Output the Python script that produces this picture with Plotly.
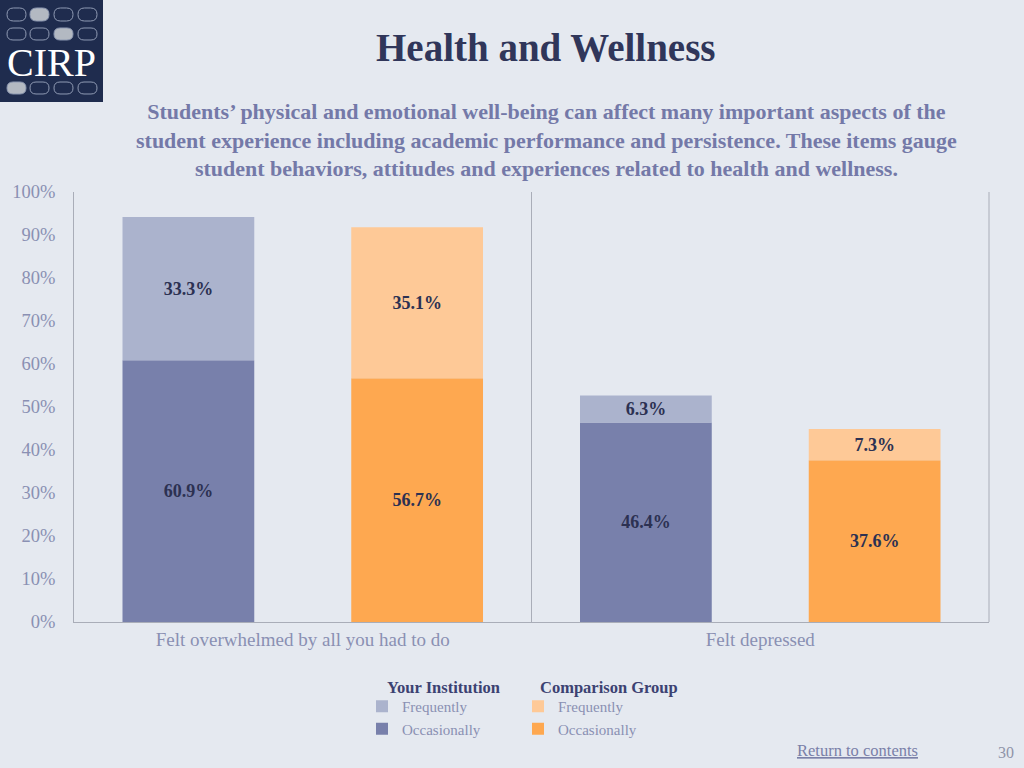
import plotly.graph_objects as go

# ---- data ----
categories = ["Felt overwhelmed by all you had to do", "Felt depressed"]
inst_occasionally = [60.9, 46.4]
inst_frequently = [33.3, 6.3]
comp_occasionally = [56.7, 37.6]
comp_frequently = [35.1, 7.3]
y_ticks = [0, 10, 20, 30, 40, 50, 60, 70, 80, 90, 100]

# ---- style ----
BG = "#e5e9f0"
SERIF = "Liberation Serif"
C_INST_OCC = "#7880ab"
C_INST_FRQ = "#abb3cd"
C_COMP_OCC = "#fea850"
C_COMP_FRQ = "#fec997"
LABEL_COLOR = "#2c3152"
AXIS_TEXT = "#8a90b3"
LINE = "#a9adb8"

W, H = 1024, 768
L, R, T, B = 74, 35, 192, 146
PW, PH = W - L - R, H - T - B


def px(x):
    return (x - L) / PW


def py(y):
    return (H - B - y) / PH


def fmt(v):
    return [f"{x:.1f}%" for x in v]


fig = go.Figure()

def add_bar(vals, base, color, name, group, legend):
    fig.add_trace(go.Bar(
        x=categories, y=vals, base=base, offsetgroup=group,
        marker=dict(color=color, line=dict(width=0)),
        text=fmt(vals), textposition="inside", insidetextanchor="middle",
        textangle=0,
        textfont=dict(family=SERIF, size=18, color=LABEL_COLOR, weight="bold"),
        name=name, legend=legend, showlegend=True,
    ))

add_bar(inst_occasionally, None, C_INST_OCC, "Occasionally", "inst", "legend")
add_bar(inst_frequently, inst_occasionally, C_INST_FRQ, "Frequently", "inst", "legend")
add_bar(comp_occasionally, None, C_COMP_OCC, "Occasionally", "comp", "legend2")
add_bar(comp_frequently, comp_occasionally, C_COMP_FRQ, "Frequently", "comp", "legend2")

shapes = []
# divider between categories and right border
shapes.append(dict(type="line", xref="x", yref="paper", x0=0.5, x1=0.5, y0=0, y1=1,
                   line=dict(color=LINE, width=1)))
shapes.append(dict(type="line", xref="paper", yref="paper", x0=1, x1=1, y0=0, y1=1,
                   line=dict(color=LINE, width=1)))

# logo background
shapes.append(dict(type="rect", xref="paper", yref="paper", x0=px(0), x1=px(103),
                   y0=py(102), y1=py(0), line=dict(width=0), fillcolor="#1f2c4e", layer="above"))


def stadium(x0, y0, x1, y1):
    r = (y1 - y0) / 2
    X = lambda v: f"{px(v):.5f}"
    Y = lambda v: f"{py(v):.5f}"
    return (f"M {X(x0 + r)},{Y(y0)} L {X(x1 - r)},{Y(y0)} "
            f"Q {X(x1)},{Y(y0)} {X(x1)},{Y(y0 + r)} "
            f"Q {X(x1)},{Y(y1)} {X(x1 - r)},{Y(y1)} "
            f"L {X(x0 + r)},{Y(y1)} "
            f"Q {X(x0)},{Y(y1)} {X(x0)},{Y(y0 + r)} "
            f"Q {X(x0)},{Y(y0)} {X(x0 + r)},{Y(y0)} Z")

cols = [(7, 26), (30, 49), (54, 73), (78, 97)]
rows = [(8, 21), (28, 40), (82, 94)]
filled = {(0, 1), (1, 2), (2, 0)}
for ri, (ya, yb) in enumerate(rows):
    for ci, (xa, xb) in enumerate(cols):
        f = (ri, ci) in filled
        shapes.append(dict(type="path", xref="paper", yref="paper", path=stadium(xa, ya, xb, yb),
                           line=dict(color="#8f9ab3", width=1),
                           fillcolor="#b3b9c2" if f else "rgba(0,0,0,0)", layer="above"))

annotations = [
    dict(text="CIRP", x=px(51), y=py(63), xref="paper", yref="paper", showarrow=False,
         font=dict(family=SERIF, size=40, color="white"), xanchor="center", yanchor="middle"),
    dict(text="<b>Health and Wellness</b>", x=px(546), y=py(48), xref="paper", yref="paper",
         showarrow=False, font=dict(family=SERIF, size=39, color="#30365a"),
         xanchor="center", yanchor="middle"),
    dict(text="<b>Students’ physical and emotional well-being can affect many important aspects of the<br>"
              "student experience including academic performance and persistence. These items gauge<br>"
              "student behaviors, attitudes and experiences related to health and wellness.</b>",
         x=px(546), y=py(140), xref="paper", yref="paper", showarrow=False, align="center",
         font=dict(family=SERIF, size=22, color="#7479a8"), xanchor="center", yanchor="middle"),
    dict(text="<b>Your Institution</b>", x=px(385), y=py(687), xref="paper", yref="paper",
         showarrow=False, font=dict(family=SERIF, size=16.5, color="#3c4272"),
         xanchor="left", yanchor="middle"),
    dict(text="<b>Comparison Group</b>", x=px(538), y=py(687), xref="paper", yref="paper",
         showarrow=False, font=dict(family=SERIF, size=16.5, color="#3c4272"),
         xanchor="left", yanchor="middle"),
    dict(text="<u>Return to contents</u>", x=px(857), y=py(750), xref="paper", yref="paper",
         showarrow=False, font=dict(family=SERIF, size=16.5, color="#7a80a8"),
         xanchor="center", yanchor="middle"),
    dict(text="30", x=px(1006), y=py(752), xref="paper", yref="paper",
         showarrow=False, font=dict(family=SERIF, size=16, color="#8f94a8"),
         xanchor="center", yanchor="middle"),
]

legend_common = dict(
    orientation="v", xanchor="left", yanchor="top", bgcolor="rgba(0,0,0,0)",
    font=dict(family=SERIF, size=15, color=AXIS_TEXT),
    traceorder="reversed", itemwidth=30, tracegroupgap=0,
)

fig.update_layout(
    width=W, height=H,
    margin=dict(l=L, r=R, t=T, b=B),
    paper_bgcolor=BG, plot_bgcolor=BG,
    barmode="group", bargap=0, bargroupgap=0.424,
    showlegend=True,
    legend=dict(**legend_common, x=px(362), y=py(690)),
    legend2=dict(**legend_common, x=px(518), y=py(690)),
    xaxis=dict(type="category", range=[-0.5, 1.5], showline=True, linecolor=LINE, linewidth=1,
               showgrid=False, ticks="", tickfont=dict(family=SERIF, size=19, color=AXIS_TEXT),
               fixedrange=True),
    yaxis=dict(range=[0, 100], tickvals=y_ticks, ticktext=[f"{v}%" for v in y_ticks],
               showline=True, linecolor=LINE, linewidth=1, showgrid=False, zeroline=False,
               ticks="", ticklabelstandoff=14,
               tickfont=dict(family=SERIF, size=18.5, color=AXIS_TEXT), fixedrange=True),
    shapes=shapes, annotations=annotations,
    uniformtext=dict(minsize=18, mode="show"),
)

fig.write_html("out.html", config={"displayModeBar": False},
               post_script="document.body.style.margin='0';document.body.style.overflow='hidden';")
